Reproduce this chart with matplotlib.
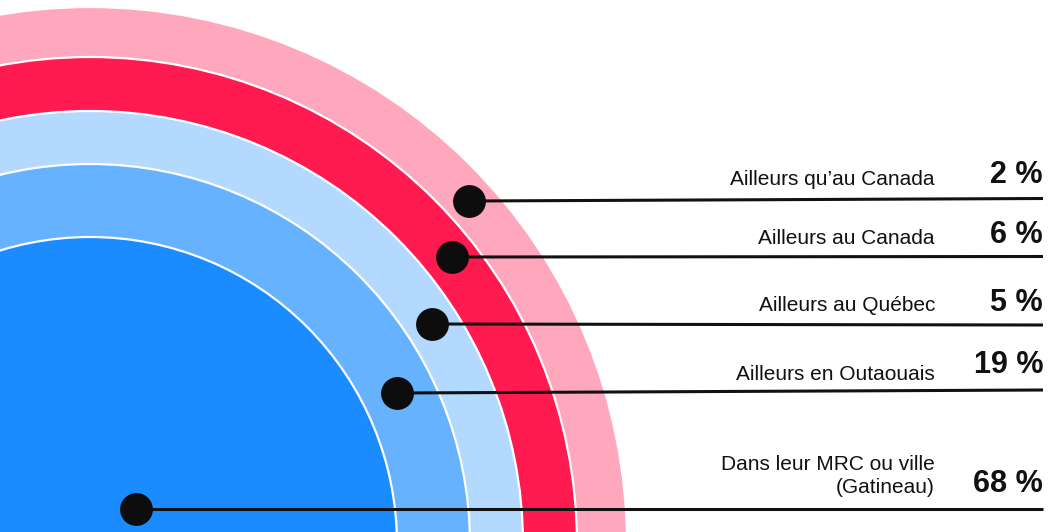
import numpy as np
import matplotlib
matplotlib.use("Agg")
import matplotlib.pyplot as plt
from matplotlib.patches import Circle

plt.rcParams['font.family'] = ['Liberation Sans', 'DejaVu Sans']

# ---- data (outer ring first) ----
categories = ["Ailleurs qu\u2019au Canada", "Ailleurs au Canada", "Ailleurs au Québec",
              "Ailleurs en Outaouais", "Dans leur MRC ou ville\n(Gatineau)"]
percents = [2, 6, 5, 19, 68]
colors = ["#ffa8bd", "#ff1a4f", "#b3d9ff", "#66b2ff", "#1a8cff"]

# ---- layout (pixels) ----
W, H = 1048, 532
cx, cy = 90, 544
radii = [537, 487, 433, 380, 307]
dot_xy = [(469, 201), (452, 257), (432, 324), (397, 393), (136, 509)]
line_end_y = [198.5, 256.5, 325, 390, 509]
label_base_y = [185, 244, 311, 380, 493]
pct_base_y = [183, 243, 311, 373, 492]
line_end_x = 1043
label_x = 935
pct_x = 1043

fig = plt.figure(figsize=(W / 100, H / 100), dpi=100)
ax = fig.add_axes([0, 0, 1, 1])
ax.set_xlim(0, W)
ax.set_ylim(H, 0)
ax.set_aspect('equal')
ax.axis('off')

for r, c in zip(radii, colors):
    ax.add_patch(Circle((cx, cy), r, facecolor=c, edgecolor='white', linewidth=1.6, zorder=1))

for i, (cat, p) in enumerate(zip(categories, percents)):
    x0, y0 = dot_xy[i]
    ax.plot([x0, line_end_x], [y0, line_end_y[i]], color='#111111', lw=2.2,
            solid_capstyle='butt', zorder=3)
    ax.scatter([x0], [y0], s=560, color='#0d0d0d', zorder=4, linewidths=0)
    ax.text(label_x, label_base_y[i], cat, ha='right', va='baseline', fontsize=15,
            color='#111111', linespacing=1.25, multialignment='right', zorder=5)
    ax.text(pct_x, pct_base_y[i], f"{p} %", ha='right', va='baseline', fontsize=22,
            fontweight='bold', color='#111111', zorder=5)

fig.savefig("out.png", dpi=100)
